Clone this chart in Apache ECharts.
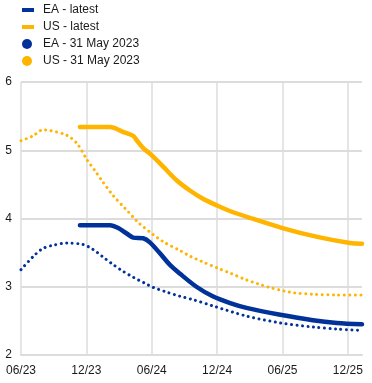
<!DOCTYPE html>
<html>
<head>
<meta charset="utf-8">
<script src="https://cdn.jsdelivr.net/npm/echarts@6/dist/echarts.min.js"></script>
<style>
html,body{margin:0;padding:0;background:#fff;}
#c{width:372px;height:383px;}
</style>
</head>
<body>
<div id="c"></div>
<script>
// x values: months since June 2023
var tickLabels = ['06/23', '12/23', '06/24', '12/24', '06/25', '12/25'];
var yTicks = [2, 3, 4, 5, 6];

var eaLatestX = [5.41, 8.17, 8.93, 9.70, 10.30, 11.22, 11.83, 12.75, 13.67, 14.6, 16.1, 17.6, 19.2, 20.7, 23.8, 26.8, 29.0, 31.3];
var eaLatestY = [3.90, 3.90, 3.86, 3.78, 3.72, 3.71, 3.65, 3.49, 3.32, 3.19, 3.00, 2.86, 2.76, 2.69, 2.59, 2.51, 2.47, 2.45];

var usLatestX = [5.41, 8.17, 9.35, 10.30, 10.60, 11.22, 11.99, 13.05, 14.28, 15.5, 16.7, 18.0, 19.17, 21.0, 24.0, 27.2, 30.2, 31.3];
var usLatestY = [5.34, 5.34, 5.27, 5.21, 5.15, 5.03, 4.93, 4.76, 4.56, 4.41, 4.29, 4.19, 4.11, 4.01, 3.86, 3.73, 3.64, 3.63];

var eaMayX = [0, 1.1, 2.0, 3.0, 4.2, 5.66, 6.58, 7.49, 8.41, 9.33, 10.30, 11.38, 12.14, 13.21, 14.6, 15.8, 17.6, 20.7, 23.8, 26.8, 29.0, 31.3];
var eaMayY = [3.25, 3.44, 3.56, 3.61, 3.64, 3.62, 3.55, 3.44, 3.33, 3.23, 3.14, 3.05, 2.99, 2.93, 2.86, 2.81, 2.72, 2.57, 2.47, 2.41, 2.38, 2.36];

var usMayX = [0, 1.1, 2.0, 2.66, 4.2, 5.14, 6.06, 6.79, 7.40, 8.44, 9.54, 10.30, 10.77, 12.08, 13.06, 14.6, 15.5, 16.6, 18.1, 19.2, 20.7, 21.8, 22.8, 24.1, 25.1, 26.8, 29.0, 31.3];
var usMayY = [5.14, 5.21, 5.30, 5.29, 5.22, 5.10, 4.86, 4.70, 4.56, 4.34, 4.15, 4.02, 3.94, 3.77, 3.66, 3.53, 3.45, 3.37, 3.27, 3.20, 3.10, 3.04, 2.99, 2.94, 2.91, 2.89, 2.88, 2.88];

var names = ['EA - latest', 'US - latest', 'EA - 31 May 2023', 'US - 31 May 2023'];
var BLUE = '#003299', YELLOW = '#FFB400';

function zip(xs, ys) { return xs.map(function (x, i) { return [x, ys[i]]; }); }

var chart = echarts.init(document.getElementById('c'), null, {renderer: 'canvas'});
var FONT = '"Liberation Sans", Arial, sans-serif';
var gridGray = '#dcdcdc';

function lineSeries(name, data, color, dotted) {
  return {
    name: name,
    type: 'line',
    data: data,
    showSymbol: false,
    symbol: 'circle',
    smooth: 0.3,
    itemStyle: {color: color},
    lineStyle: dotted
      ? {color: color, width: 3, type: [0.01, 5.5], cap: 'round'}
      : {color: color, width: 4.5, cap: 'round', join: 'round'},
    z: dotted ? 2 : 3
  };
}

chart.setOption({
  animation: false,
  backgroundColor: '#fff',
  textStyle: {fontFamily: FONT},
  legend: [
    {
      data: [{name: names[0], icon: 'rect'}, {name: names[1], icon: 'rect'}],
      orient: 'vertical', left: 22, top: 4, padding: 0,
      itemWidth: 12, itemHeight: 4, itemGap: 5,
      textStyle: {fontSize: 12, color: '#1a1a1a', fontFamily: FONT, padding: [0, 0, 0, 4]},
      selectedMode: false
    },
    {
      data: [{name: names[2], icon: 'circle'}, {name: names[3], icon: 'circle'}],
      orient: 'vertical', left: 22, top: 38, padding: 0,
      itemWidth: 10, itemHeight: 10, itemGap: 5,
      textStyle: {fontSize: 12, color: '#1a1a1a', fontFamily: FONT, padding: [0, 0, 0, 6]},
      selectedMode: false
    }
  ],
  grid: {left: 21, right: 10, top: 82, bottom: 28, containLabel: false},
  xAxis: {
    type: 'value', min: 0, max: 31.3, interval: 6,
    axisLine: {show: true, lineStyle: {color: gridGray, width: 2}},
    axisTick: {show: false},
    axisLabel: {
      margin: 10, fontSize: 12, color: '#1a1a1a', fontFamily: FONT,
      showMaxLabel: false,
      formatter: function (v) {
        var i = Math.round(v / 6);
        return (Math.abs(v - i * 6) < 1e-6 && tickLabels[i]) ? tickLabels[i] : '';
      }
    },
    splitLine: {show: true, lineStyle: {color: [gridGray, gridGray, gridGray, gridGray, gridGray, gridGray, 'rgba(0,0,0,0)'], width: 1.5}}
  },
  yAxis: {
    type: 'value', min: yTicks[0], max: yTicks[yTicks.length - 1], interval: 1,
    axisLine: {show: false},
    axisTick: {show: false},
    axisLabel: {margin: 9, fontSize: 12, color: '#1a1a1a', fontFamily: FONT},
    splitLine: {show: true, lineStyle: {color: gridGray, width: 2}}
  },
  series: [
    lineSeries(names[0], zip(eaLatestX, eaLatestY), BLUE, false),
    lineSeries(names[1], zip(usLatestX, usLatestY), YELLOW, false),
    lineSeries(names[2], zip(eaMayX, eaMayY), BLUE, true),
    lineSeries(names[3], zip(usMayX, usMayY), YELLOW, true)
  ]
});
</script>
</body>
</html>
